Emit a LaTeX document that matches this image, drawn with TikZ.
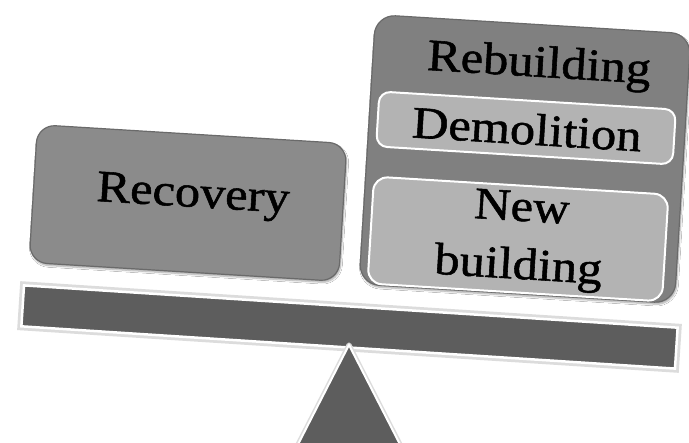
\documentclass[tikz,border=0pt]{standalone}
\usepackage{fontspec}
\usetikzlibrary{shadows.blur}
\newfontfamily\labelfont[FakeStretch=1.12,FakeBold=1.2]{Liberation Serif}
\definecolor{beamgray}{HTML}{5D5D5D}
\definecolor{recgray}{HTML}{8B8B8B}
\definecolor{outergray}{HTML}{808080}
\definecolor{innergray}{HTML}{B3B3B3}
\definecolor{rimgray}{HTML}{6A6A6A}
\definecolor{glowgray}{HTML}{DCDCDC}
\begin{document}
\begin{tikzpicture}[x=1pt,y=-1pt,
  tilt/.style={rotate=-3.5},
  bigbox/.style={tilt, rectangle, rounded corners=18pt, draw=rimgray, line width=1.2pt,
    blur shadow={shadow xshift=1pt, shadow yshift=-2pt, shadow blur steps=6, shadow opacity=35},
    inner sep=0pt},
  innerbox/.style={tilt, rectangle, rounded corners=11pt, fill=innergray, draw=white, line width=2pt, inner sep=0pt},
  lbl/.style={tilt, inner sep=0pt, align=center, font=\labelfont\fontsize{45}{58}\selectfont, text=black}
]
\useasboundingbox (0,0) rectangle (689,443);
\fill[white] (0,0) rectangle (689,443);
\begin{scope}
\clip (0,0) rectangle (689,443);
% beam
\node[rotate=-3.7, rectangle, minimum width=663pt, minimum height=49pt, fill=glowgray, inner sep=0pt] (beamglow) at (349.5,327) {};
\node[rotate=-3.7, rectangle, minimum width=655pt, minimum height=41pt, fill=beamgray, draw=white, line width=2.5pt, inner sep=0pt] (beam) at (349.5,327) {};
% fulcrum
\coordinate (apex) at (349,345);
\coordinate (bl) at (289,462);
\coordinate (br) at (409,462);
\draw[glowgray, line width=5pt, line join=round] (bl) -- (apex) -- (br);
\filldraw[fill=beamgray, draw=white, line width=2pt, line join=round] (bl) -- (apex) -- (br) -- cycle;
\end{scope}
% Recovery
\node[bigbox, fill=recgray, minimum width=310pt, minimum height=138pt] (recbox) at (188,203) {};
\node[lbl] (rectext) at (193,197) {Recovery};
% Rebuilding
\node[bigbox, fill=outergray, rounded corners=20pt, minimum width=316pt, minimum height=270pt] (rebbox) at (525,159) {};
\node[lbl] (rebtext) at (539,66) {Rebuilding};
\node[innerbox, minimum width=297pt, minimum height=55pt] (dembox) at (526,128) {};
\node[lbl] (demtext) at (527,129) {Demolition};
\node[innerbox, rounded corners=14pt, minimum width=295pt, minimum height=107pt] (newbox) at (518,239) {};
\node[lbl] (newtext) at (520,240) {New\\building};
\end{tikzpicture}
\end{document}
